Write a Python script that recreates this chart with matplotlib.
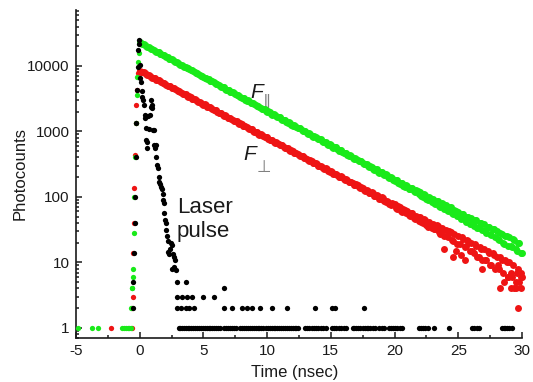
"""Time-resolved fluorescence decay: F_parallel / F_perp and the laser pulse."""
import numpy as np
import matplotlib
matplotlib.use("Agg")
import matplotlib.pyplot as plt
from matplotlib.ticker import FixedLocator, FixedFormatter, LogLocator, MultipleLocator, NullFormatter

plt.rcParams["font.family"] = ["Liberation Sans", "DejaVu Sans"]
plt.rcParams["axes.unicode_minus"] = False

GREEN, RED, BLACK = "#19ea19", "#ee1414", "#000000"
INK = "#1a1a1a"

# ── data: decay channels 0..30 ns (even: 0.0, 0.2, ...; odd: 0.1, 0.3, ...) ──
T_EVEN = np.linspace(0.0, 30.0, 151)
T_ODD = np.linspace(0.1, 29.9, 150)

F_PAR_EVEN = [22900, 21700, 20900, 19700, 18950, 18100, 17050, 16400, 15450, 14900,
              14050, 13550, 12750, 12300, 11580, 11150, 10480, 10150, 9530, 9210,
              8650, 8380, 7850, 7610, 7110, 6900, 6450, 6280, 5850, 5700,
              5310, 5180, 4820, 4710, 4370, 4270, 3960, 3890, 3590, 3520,
              3260, 3200, 2950, 2910, 2680, 2650, 2430, 2400, 2200, 2180,
              2000, 1990, 1810, 1800, 1650, 1640, 1490, 1480, 1350, 1350,
              1230, 1230, 1110, 1110, 1010, 1010, 915, 920, 830, 835,
              755, 760, 685, 690, 620, 625, 565, 570, 510, 515,
              465, 470, 420, 428, 382, 385, 348, 352, 315, 318,
              286, 290, 258, 263, 236, 238, 214, 217, 194, 197,
              176, 180, 158, 163, 144, 148, 131, 135, 119, 122,
              118, 99, 108, 90, 97, 93, 78, 86, 70, 79,
              74, 60, 70, 55, 61, 59, 46, 55, 42, 50,
              47, 36, 44, 33, 40, 38, 28, 35, 26, 32,
              30, 22, 27, 19, 25, 24, 17, 22, 15, 20,
              14]
F_PAR_ODD = [22100, 21500, 20100, 19500, 18300, 17700, 16600, 16100, 15050, 14600,
             13900, 13000, 12650, 11800, 11450, 10700, 10400, 9700, 9450, 8850,
             8600, 8000, 7800, 7250, 7080, 6590, 6430, 5980, 5840, 5440,
             5300, 4930, 4820, 4470, 4370, 4060, 3970, 3690, 3610, 3350,
             3280, 3040, 2970, 2760, 2700, 2500, 2450, 2270, 2230, 2060,
             2020, 1870, 1840, 1700, 1670, 1540, 1510, 1400, 1375, 1270,
             1250, 1155, 1130, 1045, 1030, 950, 932, 862, 848, 782,
             770, 710, 700, 645, 635, 585, 576, 530, 522, 482,
             475, 438, 432, 397, 392, 361, 356, 327, 323, 296,
             294, 268, 267, 243, 242, 222, 220, 201, 200, 183,
             183, 165, 166, 149, 151, 134, 139, 121, 126, 110,
             103, 112, 94, 101, 85, 82, 88, 73, 80, 66,
             63, 70, 57, 63, 51, 50, 55, 44, 50, 39,
             38, 44, 34, 40, 31, 30, 35, 27, 32, 24,
             23, 28, 20, 25, 18, 18, 23, 16, 20, 14]

F_PERP_EVEN = [8500, 8050, 7800, 7300, 7100, 6650, 6480, 6050, 5900, 5500,
               5350, 4990, 4870, 4540, 4420, 4120, 4030, 3760, 3680, 3410,
               3340, 3100, 3040, 2820, 2760, 2570, 2520, 2330, 2290, 2120,
               2090, 1930, 1890, 1750, 1720, 1590, 1570, 1450, 1430, 1310,
               1300, 1195, 1185, 1085, 1075, 985, 980, 895, 890, 815,
               812, 742, 738, 675, 670, 615, 610, 558, 555, 505,
               506, 462, 460, 420, 418, 398, 364, 362, 330, 330,
               300, 300, 273, 274, 248, 250, 226, 227, 205, 206,
               186, 188, 170, 171, 154, 157, 140, 141, 127, 129,
               115, 117, 103, 106, 94, 98, 86, 88, 78, 80,
               79, 66, 70, 59, 64, 62, 51, 56, 46, 50,
               50, 40, 45, 35, 39, 39, 32, 36, 27, 31,
               31, 24, 29, 21, 15, 25, 13, 23, 18, 21,
               20, 14, 18, 12, 16, 16, 11, 14, 9, 13,
               12, 8, 11, 5, 10, 10, 6, 4, 7, 5,
               6]
F_PERP_ODD = [8200, 8000, 7480, 7290, 6800, 6620, 6180, 6030, 5620, 5480,
              5110, 4990, 4650, 4540, 4230, 4130, 3840, 3760, 3490, 3420,
              3170, 3110, 2890, 2830, 2630, 2580, 2390, 2340, 2170, 2130,
              1970, 1940, 1790, 1760, 1630, 1600, 1480, 1460, 1350, 1325,
              1230, 1210, 1115, 1100, 1015, 995, 920, 905, 840, 825,
              765, 752, 695, 683, 632, 620, 575, 564, 522, 514,
              476, 468, 432, 425, 393, 386, 357, 351, 325, 320,
              296, 291, 269, 265, 244, 241, 222, 219, 202, 199,
              184, 182, 167, 165, 152, 150, 137, 136, 125, 124,
              113, 113, 103, 102, 93, 95, 84, 85, 76, 77,
              68, 72, 62, 66, 56, 53, 57, 48, 52, 43,
              41, 46, 37, 42, 33, 32, 37, 29, 33, 25,
              25, 30, 22, 27, 19, 19, 24, 17, 22, 15,
              15, 19, 12, 17, 11, 11, 15, 9, 14, 8,
              9, 12, 7, 11, 6, 7, 9, 5, 8, 4]

# baseline + rising edge before t=0, and scattered tail channels
PAR_PRE_T = [-4.87, -3.78, -3.25, -1.4, -1.25, -1.1, -0.95, -0.85, -0.72, -0.66,
             -0.6, -0.57, -0.54, -0.51, -0.47, -0.43, -0.38, -0.32, -0.25, -0.18,
             -0.1, -0.05]
PAR_PRE_V = [1, 1, 1, 1, 1, 1, 1, 1, 1, 2, 4, 4, 6, 8, 28, 100, 400, 1350, 3600, 6800,
             11500, 16000]
PERP_PRE_T = [-2.23, -0.62, -0.58, -0.55, -0.5, -0.46, -0.42, -0.38, -0.32, -0.27,
              -0.2, -0.12, -0.05]
PERP_PRE_V = [1, 1, 2, 3, 14, 40, 137, 430, 1350, 2550, 4300, 7800, 8300]
PERP_TAIL_T = [23.9, 24.6, 25.5, 26.9, 28.3, 28.9, 29.1, 29.5, 29.7, 29.9, 29.9]
PERP_TAIL_V = [16, 12, 11, 8, 4, 6, 4, 4, 2, 7, 6]

# laser pulse (instrument response)
PULSE_T = [-0.55, -0.5, -0.45, -0.4, -0.36, -0.3, -0.26, -0.21, -0.16, -0.11,
           -0.06, -0.02, 0.0, 0.03, 0.08, 0.15, 0.2, 0.28, 0.34, 0.38,
           0.42, 0.47, 0.5, 0.55, 0.6, 0.65, 0.75, 0.8, 0.86, 0.9,
           0.95, 1.0, 1.05, 1.1, 1.15, 1.2, 1.25, 1.31, 1.36, 1.44,
           1.5, 1.55, 1.62, 1.68, 1.73, 1.8, 1.86, 1.9, 1.94, 1.99,
           2.04, 2.1, 2.16, 2.2, 2.25, 2.3, 2.36, 2.43, 2.5, 2.56,
           2.6, 2.67, 2.72, 2.78, 2.85]
PULSE_V = [2, 5, 14, 40, 100, 400, 1350, 4300, 9700, 17500,
           25000, 22000, 10500, 6500, 5600, 3300, 4200, 3000, 2500, 1800,
           1600, 1130, 750, 700, 560, 1750, 1100, 1800, 3000, 2400,
           2300, 2550, 1050, 1050, 620, 560, 630, 410, 310, 280,
           200, 170, 160, 143, 130, 110, 90, 80, 57, 45,
           40, 31, 25, 21, 14.5, 13.5, 16, 20, 8, 18.5,
           13.6, 12, 8.5, 11, 7.7]
# pulse background: channel times holding 5, 4, 3, 2 and 1 counts
PULSE_5 = [2.96, 3.65]
PULSE_4 = [6.6]
PULSE_3 = [2.96, 3.35, 3.74, 4.13, 5.0, 5.83]
PULSE_2 = [2.96, 3.22, 3.61, 3.87, 4.27, 6.6, 7.25, 8.04, 8.4, 8.8, 9.45, 10.4,
           11.55, 13.75, 15.1, 15.35, 17.6]
PULSE_1 = [3.05, 3.2, 3.35, 3.5, 3.62, 3.75, 3.9, 4.05, 4.2, 4.35, 4.5, 4.62,
           4.8, 4.95, 5.1, 5.25, 5.4, 5.55, 5.7, 5.85, 6.0, 6.15, 6.3, 6.65,
           6.8, 6.95, 7.1, 7.25, 7.4, 7.55, 7.9, 8.05, 8.2, 8.35, 8.5, 8.65,
           8.8, 8.95, 9.1, 9.25, 9.4, 9.55, 9.7, 9.9, 10.05, 10.2, 10.35, 10.5,
           10.65, 10.8, 10.95, 11.1, 11.25, 11.4, 11.55, 11.7, 11.85, 12.0, 12.15,
           12.3, 12.45, 13.0, 13.15, 13.3, 13.5, 13.65, 13.8, 14.0, 14.2, 14.4,
           14.6, 15.1, 15.25, 15.4, 15.6, 15.8, 16.0, 16.2, 16.7, 16.85, 17.0,
           17.15, 17.3, 17.5, 17.65, 17.8, 17.95, 18.1, 18.3, 18.5, 18.75, 19.0,
           19.2, 19.6, 19.75, 19.9, 20.05, 20.2, 20.45, 20.6, 21.9, 22.05, 22.2,
           22.4, 22.6, 23.1, 24.3, 26.05, 26.2, 26.45, 26.6, 28.4, 28.55, 28.7,
           28.85, 29.0, 29.2]

Y_TICKS = [1, 10, 100, 1000, 10000]
Y_LABELS = ["1", "10", "100", "1000", "10000"]
X_TICKS = [-5, 0, 5, 10, 15, 20, 25, 30]

# ── figure ──────────────────────────────────────────────────────────────────
fig = plt.figure(figsize=(5.33, 3.82), dpi=100)
ax = fig.add_axes([76 / 533, 44 / 382, 446 / 533, 328 / 382])

big = dict(ls="none", marker="o", ms=5.0, mew=0, clip_on=False)
small = dict(ls="none", marker="o", ms=3.8, mew=0, clip_on=False)

ax.plot(list(T_EVEN) + list(T_ODD) + PERP_TAIL_T,
        F_PERP_EVEN + F_PERP_ODD + PERP_TAIL_V, color=RED, zorder=3, **big)
ax.plot(list(T_EVEN) + list(T_ODD), F_PAR_EVEN + F_PAR_ODD,
        color=GREEN, zorder=4, **big)
ax.plot(PERP_PRE_T, PERP_PRE_V, color=RED, zorder=3, **small)
ax.plot(PAR_PRE_T, PAR_PRE_V, color=GREEN, zorder=4, **small)

bt = PULSE_T + PULSE_5 + PULSE_4 + PULSE_3 + PULSE_2 + PULSE_1
bv = (PULSE_V + [5] * len(PULSE_5) + [4] * len(PULSE_4) + [3] * len(PULSE_3)
      + [2] * len(PULSE_2) + [1] * len(PULSE_1))
ax.plot(bt, bv, color=BLACK, zorder=5, **small)

ax.set_yscale("log")
ax.set_xlim(-5, 30)
ax.set_ylim(0.70, 71600)

ax.yaxis.set_major_locator(FixedLocator(Y_TICKS))
ax.yaxis.set_major_formatter(FixedFormatter(Y_LABELS))
ax.yaxis.set_minor_locator(LogLocator(base=10, subs=np.arange(2, 10), numticks=20))
ax.yaxis.set_minor_formatter(NullFormatter())
ax.xaxis.set_major_locator(FixedLocator(X_TICKS))
ax.xaxis.set_minor_locator(MultipleLocator(2.5))

for side in ("top", "right"):
    ax.spines[side].set_visible(False)
for side in ("left", "bottom"):
    ax.spines[side].set_linewidth(1.2)
    ax.spines[side].set_color(INK)

ax.tick_params(which="both", direction="in", color=INK, width=1.1,
               labelsize=11, labelcolor=INK)
ax.tick_params(which="major", length=4.5, pad=4.5)
ax.tick_params(which="minor", length=2.5)

ax.text(-0.1256, 0.50, "Photocounts", transform=ax.transAxes, rotation=90,
        ha="center", va="center", fontsize=12, color=INK)
ax.text(0.491, -0.082, "Time (nsec)", transform=ax.transAxes,
        ha="center", va="top", fontsize=12, color=INK)

# curve labels
ax.text(0.390, 0.732, "F", transform=ax.transAxes, style="italic",
        fontsize=15, color=INK, ha="left", va="baseline")
ax.text(0.418, 0.708, "\u2225", transform=ax.transAxes, fontsize=12,
        color="#808080", ha="left", va="baseline")
ax.text(0.3744, 0.5427, "F", transform=ax.transAxes, style="italic",
        fontsize=15, color=INK, ha="left", va="baseline")
ax.text(0.405, 0.507, "\u22a5", transform=ax.transAxes, fontsize=12,
        color="#808080", ha="left", va="baseline")
ax.text(0.2265, 0.381, "Laser", transform=ax.transAxes, fontsize=16,
        color=INK, ha="left", va="baseline")
ax.text(0.2265, 0.308, "pulse", transform=ax.transAxes, fontsize=16,
        color=INK, ha="left", va="baseline")

fig.savefig("out.png", dpi=100, facecolor="white")
